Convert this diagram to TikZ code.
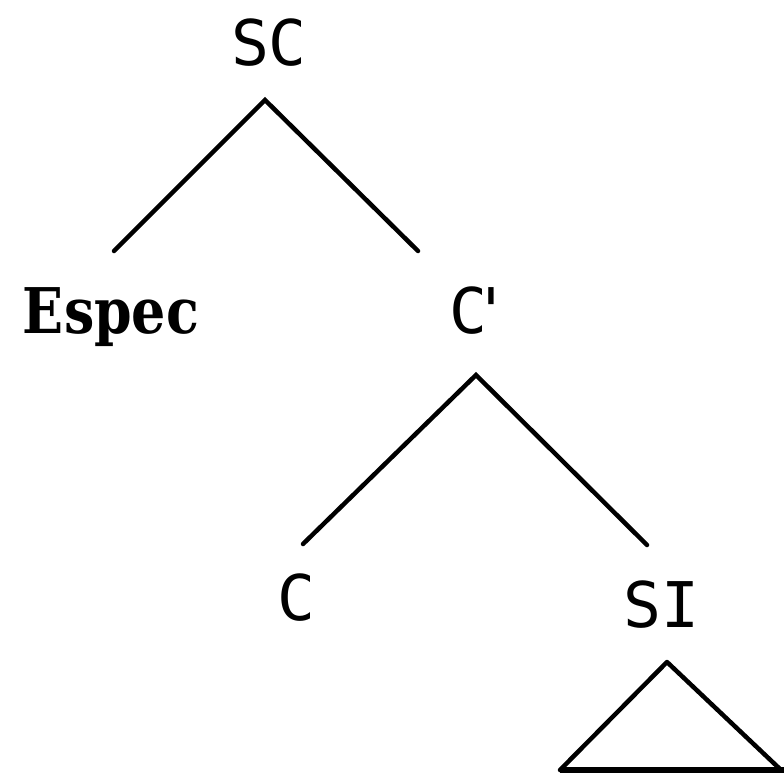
\documentclass[tikz,border=0pt]{standalone}
\usepackage{fontspec}
\newfontfamily\labfont{DejaVu Sans Mono}
\newfontfamily\specfont{DejaVu Serif Condensed}
\begin{document}
\begin{tikzpicture}[x=1pt,y=-1pt,
  lab/.style={font=\labfont\fontsize{63}{63}\selectfont, inner sep=0pt, anchor=base},
  speclab/.style={font=\specfont\bfseries\fontsize{63}{63}\selectfont, inner sep=0pt, anchor=base},
  branch/.style={line width=4.5pt, line cap=round, line join=miter}]
\useasboundingbox (0,0) rectangle (784,780);
\fill[white] (0,0) rectangle (784,780);
% labels
\node[lab] (SC) at (269,65) {SC};
\node[speclab, xscale=0.95] (Espec) at (111,333) {Espec};
\node[lab] (Cbar) at (480,333) {C\kern-0.25em'};
\node[lab] (C) at (296,620) {C};
\node[lab] (SI) at (661,627) {SI};
% branch points
\coordinate (SC-b) at (265,100);
\coordinate (Espec-t) at (114,251);
\coordinate (Cbar-t) at (418,251);
\coordinate (Cbar-b) at (476,375);
\coordinate (C-t) at (303,544);
\coordinate (SI-t) at (647,545);
\coordinate (SI-b) at (667,662);
\coordinate (triL) at (560,770);
\coordinate (triR) at (781,770);
\draw[branch] (Espec-t) -- (SC-b) -- (Cbar-t);
\draw[branch] (C-t) -- (Cbar-b) -- (SI-t);
\draw[branch, line join=round] (triL) -- (SI-b) -- (triR);
\draw[line width=6pt] (triL) -- (784,770);
\end{tikzpicture}
\end{document}
